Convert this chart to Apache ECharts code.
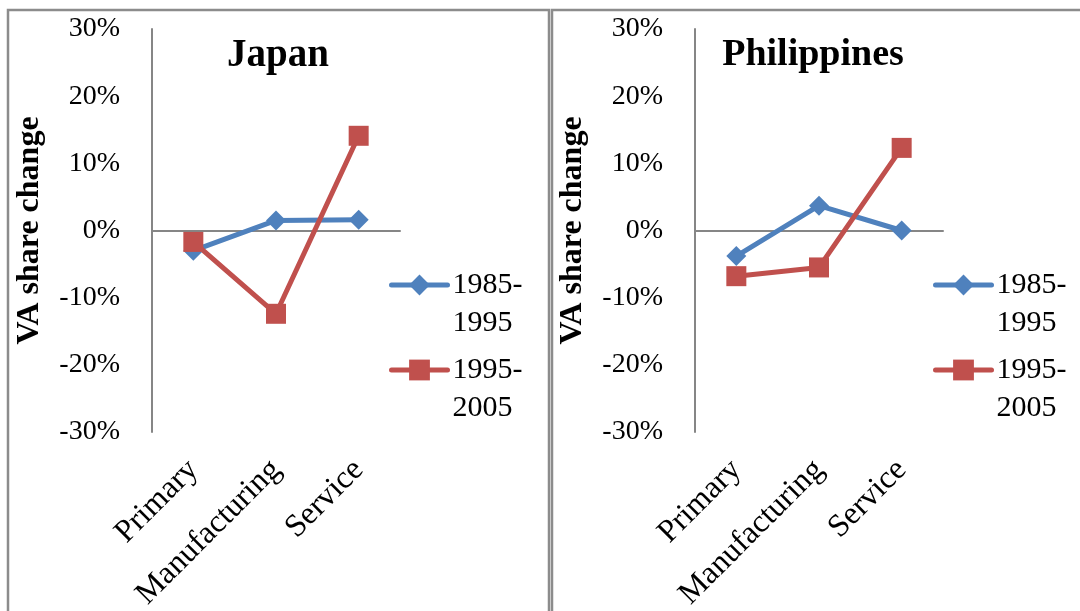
<!DOCTYPE html>
<html>
<head>
<meta charset="utf-8">
<script src="https://cdn.jsdelivr.net/npm/echarts@6/dist/echarts.min.js"></script>
<style>
  html, body { margin: 0; padding: 0; background: #fff; }
  #chart { width: 1080px; height: 611px; }
</style>
</head>
<body>
<div id="chart"></div>
<script>
// Sectors on the category axis
const categories = ['Primary', 'Manufacturing', 'Service'];
// Y axis tick range (percent)
const yMin = -30;
const yMax = 30;
const yStep = 10;
// Period names
const periods = ['1985-1995', '1995-2005'];
// Change in value-added share, percent
const japan8595 = [-3.0, 1.5, 1.6];
const japan9505 = [-1.7, -12.4, 14.1];
const phil8595 = [-3.8, 3.7, 0.0];
const phil9505 = [-6.8, -5.5, 12.3];
// Panel titles
const panelTitles = ['Japan', 'Philippines'];

const FONT = '"Liberation Serif", "Times New Roman", serif';
const BLUE = '#4F81BD';
const RED = '#C0504D';
const GREY = '#868686';

// fixed plot rectangles; labels may run past the canvas edge
const grids = [
  { left: 152, top: 29, width: 248, height: 403, outerBoundsMode: 'none', containLabel: false },
  { left: 695, top: 29, width: 248, height: 403, outerBoundsMode: 'none', containLabel: false }
];

function makeX(gi) {
  return [
    {
      type: 'category', gridIndex: gi, data: categories, boundaryGap: true,
      position: 'bottom',
      axisLine: { show: false, onZero: false },
      axisTick: { show: false },
      axisLabel: {
        rotate: 45, margin: 33, interval: 0,
        fontFamily: FONT, fontSize: 32, color: '#000'
      }
    },
    {
      // zero line across the plot
      type: 'category', gridIndex: gi, data: categories, boundaryGap: true,
      axisLine: { show: true, onZero: true, lineStyle: { color: GREY, width: 2 } },
      axisTick: { show: false },
      axisLabel: { show: false }
    }
  ];
}

function makeY(gi) {
  return {
    type: 'value', gridIndex: gi, min: yMin, max: yMax, interval: yStep,
    name: 'VA share change', nameLocation: 'middle', nameGap: 106,
    nameTextStyle: { fontFamily: FONT, fontSize: 32, fontWeight: 'bold', color: '#000' },
    axisLine: { show: true, lineStyle: { color: GREY, width: 2 } },
    axisTick: { show: false },
    splitLine: { show: false },
    axisLabel: {
      margin: 32, fontFamily: FONT, fontSize: 28, color: '#000',
      formatter: '{value}%'
    }
  };
}

function makeSeries(name, values, xi, yi, color, symbol, size) {
  return {
    name: name, type: 'line', data: values,
    xAxisIndex: xi, yAxisIndex: yi,
    symbol: symbol, symbolSize: size,
    showAllSymbol: true,
    lineStyle: { color: color, width: 5 },
    itemStyle: { color: color },
    emphasis: { disabled: true },
    z: 3
  };
}

function makeLegend(name, left, iconY) {
  return {
    data: [name], orient: 'vertical',
    left: left, top: iconY - 57, padding: 0,
    itemWidth: 56, itemHeight: 26,
    lineStyle: { width: 5, cap: 'round' },
    // leading blank line keeps the first text line level with the icon
    formatter: function (n) { return '\n' + n.replace('-', '-\n'); },
    textStyle: {
      fontFamily: FONT, fontSize: 30, color: '#000', lineHeight: 38
    }
  };
}

const option = {
  backgroundColor: '#fff',
  animation: false,
  title: [
    { text: panelTitles[0], left: 278, top: 36, textAlign: 'center', padding: 0,
      textStyle: { fontFamily: FONT, fontSize: 39, fontWeight: 'bold', color: '#000' } },
    { text: panelTitles[1], left: 813, top: 36, textAlign: 'center', padding: 0,
      textStyle: { fontFamily: FONT, fontSize: 38, fontWeight: 'bold', color: '#000' } }
  ],
  grid: grids,
  xAxis: makeX(0).concat(makeX(1)),
  yAxis: [makeY(0), makeY(1)],
  legend: [
    makeLegend(periods[0], 389, 285),
    makeLegend(periods[1], 389, 370),
    makeLegend(periods[0], 933, 285),
    makeLegend(periods[1], 933, 370)
  ],
  series: [
    makeSeries(periods[0], japan8595, 0, 0, BLUE, 'diamond', 20),
    makeSeries(periods[1], japan9505, 0, 0, RED, 'rect', 20),
    makeSeries(periods[0], phil8595, 2, 1, BLUE, 'diamond', 20),
    makeSeries(periods[1], phil9505, 2, 1, RED, 'rect', 20)
  ],
  graphic: [
    { type: 'rect', shape: { x: 8, y: 10, width: 541, height: 660 },
      style: { fill: null, stroke: '#8c8c8c', lineWidth: 2.5 }, silent: true, z: -1 },
    { type: 'rect', shape: { x: 552, y: 10, width: 600, height: 660 },
      style: { fill: null, stroke: '#8c8c8c', lineWidth: 2.5 }, silent: true, z: -1 }
  ]
};

const chart = echarts.init(document.getElementById('chart'), null, { renderer: 'canvas' });
chart.setOption(option);
</script>
</body>
</html>
